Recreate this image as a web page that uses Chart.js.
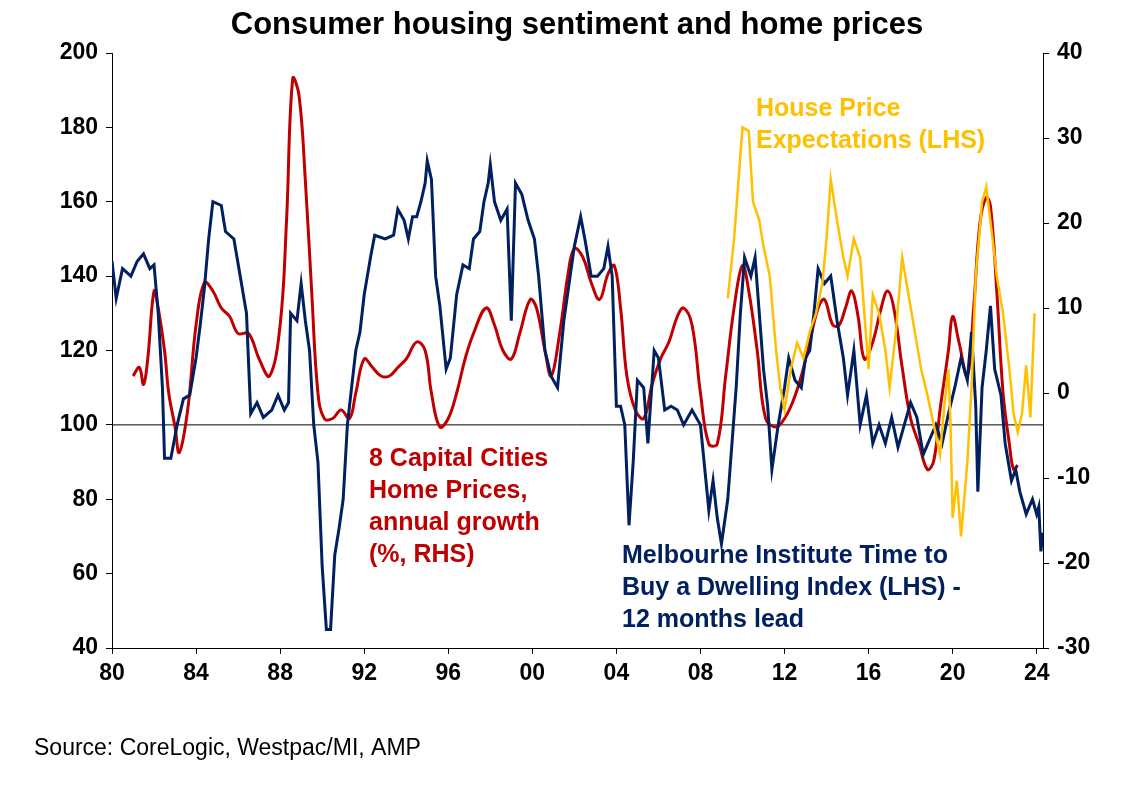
<!DOCTYPE html>
<html>
<head>
<meta charset="utf-8">
<script src="https://cdn.jsdelivr.net/npm/chart.js@4"></script>
<style>body{margin:0;background:#fff}</style>
</head>
<body>
<canvas id="myChart" width="1134" height="789"></canvas>
<script>
// Melbourne Institute Time to Buy a Dwelling Index (LHS), 12 months lead
const melbourne = [
  [1980.0,144],[1980.2,134],[1980.5,142],[1980.9,140],[1981.2,144],[1981.5,146],[1981.8,142],[1982.0,143],
  [1982.2,130],[1982.4,110],[1982.5,91],[1982.8,91],[1983.1,100],[1983.4,107],[1983.7,108],[1984.0,118],
  [1984.2,127],[1984.4,137],[1984.6,150],[1984.8,160],[1985.2,159],[1985.4,152],[1985.8,150],[1986.1,140],
  [1986.4,130],[1986.6,103],[1986.9,106],[1987.2,102],[1987.6,104],[1987.9,108],[1988.2,104],[1988.4,106],
  [1988.5,130],[1988.8,128],[1989.0,138],[1989.2,128],[1989.4,120],[1989.6,100],[1989.8,90],[1990.0,62],
  [1990.2,45],[1990.4,45],[1990.6,65],[1990.8,72],[1991.0,80],[1991.2,100],[1991.4,110],[1991.6,120],
  [1991.8,125],[1992.0,135],[1992.3,145],[1992.5,151],[1993.0,150],[1993.4,151],[1993.6,158],[1993.9,155],
  [1994.1,150],[1994.3,156],[1994.5,156],[1994.7,160],[1994.9,165],[1995.0,171],[1995.2,166],[1995.4,140],
  [1995.6,132],[1995.9,115],[1996.1,118],[1996.4,135],[1996.7,143],[1997.0,142],[1997.2,150],[1997.5,152],
  [1997.7,160],[1997.9,165],[1998.0,170],[1998.2,160],[1998.5,155],[1998.8,158],[1999.0,128],[1999.2,165],
  [1999.5,162],[1999.8,155],[2000.1,150],[2000.3,140],[2000.6,120],[2000.9,113],[2001.2,110],[2001.5,128],
  [2001.8,140],[2002.0,148],[2002.3,156],[2002.5,150],[2002.8,140],[2003.1,140],[2003.4,142],[2003.6,148],
  [2003.8,140],[2004.0,105],[2004.2,105],[2004.4,100],[2004.6,73],[2004.8,90],[2005.0,112],[2005.3,110],
  [2005.5,95],[2005.8,120],[2006.0,118],[2006.3,104],[2006.6,105],[2006.9,104],[2007.2,100],[2007.6,104],
  [2008.0,100],[2008.4,77],[2008.6,85],[2008.8,75],[2009.0,68],[2009.3,80],[2009.5,95],[2009.7,110],
  [2009.9,130],[2010.1,145],[2010.4,140],[2010.6,145],[2010.8,130],[2011.0,115],[2011.2,105],[2011.4,88],
  [2011.7,100],[2012.0,110],[2012.2,118],[2012.5,112],[2012.8,110],[2013.0,118],[2013.2,120],[2013.4,130],
  [2013.6,142],[2013.9,138],[2014.2,140],[2014.5,128],[2014.8,118],[2015.0,108],[2015.3,120],[2015.6,100],
  [2015.9,108],[2016.2,95],[2016.5,100],[2016.8,95],[2017.1,102],[2017.4,94],[2017.7,100],[2018.0,106],
  [2018.3,102],[2018.6,92],[2018.9,96],[2019.2,100],[2019.5,95],[2019.8,103],[2020.1,110],[2020.4,118],
  [2020.7,112],[2020.9,125],[2021.1,105],[2021.2,82],[2021.4,110],[2021.6,120],[2021.8,132],[2022.0,115],
  [2022.3,108],[2022.5,95],[2022.8,85],[2023.0,88],[2023.2,82],[2023.5,76],[2023.8,80],[2024.0,76],
  [2024.1,78],[2024.2,66],[2024.3,71]
];

// 8 Capital Cities Home Prices, annual growth % (RHS)
const homePrices = [
  [1981.0,2],[1981.3,3],[1981.5,1],[1981.7,4],[1982.0,12],[1982.2,10],[1982.5,5],[1982.7,0],[1983.0,-4],
  [1983.2,-7],[1983.6,-2],[1984.0,8],[1984.4,13],[1984.8,12],[1985.2,10],[1985.6,9],[1986.0,7],[1986.5,7],
  [1987.0,4],[1987.5,2],[1988.0,8],[1988.3,20],[1988.6,37],[1988.9,35],[1989.2,25],[1989.5,12],[1989.8,0],
  [1990.1,-3],[1990.5,-3],[1990.9,-2],[1991.3,-3],[1991.6,0],[1992.0,4],[1992.4,3],[1992.8,2],[1993.2,2],
  [1993.6,3],[1994.0,4],[1994.5,6],[1994.9,5],[1995.2,0],[1995.6,-4],[1996.0,-3],[1996.4,0],[1996.8,4],
  [1997.2,7],[1997.8,10],[1998.2,8],[1998.6,5],[1999.0,4],[1999.4,7],[1999.9,11],[2000.2,10],[2000.6,5],
  [2000.9,2],[2001.3,7],[2001.7,14],[2002.0,17],[2002.4,16],[2002.8,13],[2003.2,11],[2003.6,14],[2003.9,15],
  [2004.2,10],[2004.5,2],[2004.9,-2],[2005.3,-3],[2005.7,1],[2006.1,4],[2006.5,6],[2006.9,9],[2007.2,10],
  [2007.6,8],[2008.0,0],[2008.4,-6],[2008.8,-6],[2009.2,2],[2009.6,10],[2010.0,15],[2010.3,12],[2010.7,5],
  [2011.1,-3],[2011.6,-4],[2012.0,-3],[2012.4,-1],[2012.8,2],[2013.2,6],[2013.6,10],[2013.9,11],[2014.3,8],
  [2014.6,8],[2014.9,10],[2015.2,12],[2015.5,9],[2015.8,4],[2016.2,6],[2016.6,10],[2016.9,12],[2017.2,10],
  [2017.6,3],[2018.0,-3],[2018.4,-6],[2018.8,-9],[2019.1,-8],[2019.4,-2],[2019.8,5],[2020.0,9],[2020.3,6],
  [2020.7,2],[2021.0,10],[2021.3,20],[2021.6,23],[2021.8,22],[2022.1,12],[2022.4,0],[2022.7,-6],[2022.9,-9],
  [2023.1,-8.5]
];

// House Price Expectations (LHS)
const expectations = [
  [2009.3,134],[2009.6,150],[2009.8,165],[2010.0,180],[2010.3,179],[2010.5,160],[2010.8,155],[2011.0,148],
  [2011.3,140],[2011.6,120],[2011.8,110],[2012.0,104],[2012.3,115],[2012.6,122],[2012.9,118],[2013.2,125],
  [2013.5,130],[2013.8,138],[2014.0,150],[2014.2,166],[2014.5,155],[2014.8,145],[2015.0,140],[2015.3,150],
  [2015.6,145],[2015.8,130],[2016.0,115],[2016.2,135],[2016.5,130],[2016.8,120],[2017.0,110],[2017.3,125],
  [2017.6,145],[2017.9,135],[2018.2,125],[2018.5,115],[2018.8,108],[2019.1,100],[2019.4,92],[2019.6,105],
  [2019.8,115],[2019.9,100],[2020.0,75],[2020.2,85],[2020.4,70],[2020.7,90],[2020.9,110],[2021.1,140],
  [2021.4,160],[2021.6,164],[2021.9,150],[2022.1,140],[2022.4,130],[2022.7,115],[2022.9,103],[2023.1,98],
  [2023.3,103],[2023.5,116],[2023.7,102],[2023.9,130]
];

const toPoints = arr => arr.map(([x, y]) => ({ x, y }));
const FONT = 'Arial, "Liberation Sans", sans-serif';

// Título, rótulos e linha do 100
const extras = {
  id: 'extras',
  beforeDatasetsDraw(chart) {
    const { ctx, chartArea, scales } = chart;
    const y100 = scales.y.getPixelForValue(100);
    ctx.save();
    ctx.strokeStyle = '#000';
    ctx.lineWidth = 1;
    ctx.beginPath();
    ctx.moveTo(chartArea.left, y100);
    ctx.lineTo(chartArea.right, y100);
    ctx.stroke();
    ctx.restore();
  },
  afterDraw(chart) {
    const { ctx } = chart;
    ctx.save();
    ctx.fillStyle = '#000';
    ctx.font = 'bold 31px ' + FONT;
    ctx.textAlign = 'center';
    ctx.textBaseline = 'middle';
    ctx.fillText('Consumer housing sentiment and home prices', 577, 25);

    ctx.textAlign = 'left';
    ctx.font = '23px ' + FONT;
    ctx.fillText('Source: CoreLogic, Westpac/MI, AMP', 34, 749);

    ctx.font = 'bold 25px ' + FONT;
    const label = (lines, x, y, color) => {
      ctx.fillStyle = color;
      lines.forEach((t, i) => ctx.fillText(t, x, y + i * 32));
    };
    label(['House Price', 'Expectations (LHS)'], 756, 109, '#FFC000');
    label(['8 Capital Cities', 'Home Prices,', 'annual growth', '(%, RHS)'], 369, 459, '#C00000');
    label(['Melbourne Institute Time to', 'Buy a Dwelling Index (LHS) -', '12 months lead'], 622, 556, '#002060');
    ctx.restore();
  }
};

const lineOpts = (color, width) => ({
  borderColor: color, borderWidth: width, pointRadius: 0, fill: false, tension: 0
});

const tickFont = { family: FONT, size: 23, weight: 'bold' };

new Chart(document.getElementById('myChart').getContext('2d'), {
  type: 'line',
  data: {
    datasets: [
      { label: 'Expectations', data: toPoints(expectations), yAxisID: 'y', ...lineOpts('#FFC000', 2.5) },
      { label: 'Melbourne', data: toPoints(melbourne), yAxisID: 'y', ...lineOpts('#002060', 3) },
      { label: 'Home prices', data: toPoints(homePrices), yAxisID: 'y2', ...lineOpts('#C00000', 3), tension: 0.4 }
    ]
  },
  options: {
    responsive: false,
    animation: false,
    layout: { padding: { top: 53, left: 0, right: 0 } },
    plugins: { legend: { display: false }, tooltip: { enabled: false } },
    scales: {
      x: {
        type: 'linear', min: 1980, max: 2024.3,
        afterFit: s => { s.height = 141; },
        afterBuildTicks: s => { s.ticks = []; for (let v = 1980; v <= 2024; v += 4) s.ticks.push({ value: v }); },
        ticks: {
          color: '#000', font: tickFont, padding: 6, maxRotation: 0,
          callback: v => String(v % 100).padStart(2, '0')
        },
        grid: { display: true, drawOnChartArea: false, color: '#000', tickLength: 6 },
        border: { color: '#000', width: 1 }
      },
      y: {
        position: 'left', min: 40, max: 200,
        afterFit: s => { s.width = 112; },
        ticks: { stepSize: 20, color: '#000', font: tickFont, padding: 8 },
        grid: { display: true, drawOnChartArea: false, color: '#000', tickLength: 6 },
        border: { color: '#000', width: 1 }
      },
      y2: {
        position: 'right', min: -30, max: 40,
        afterFit: s => { s.width = 91; },
        ticks: { stepSize: 10, color: '#000', font: tickFont, padding: 8 },
        grid: { display: true, drawOnChartArea: false, color: '#000', tickLength: 6 },
        border: { color: '#000', width: 1 }
      }
    }
  },
  plugins: [extras]
});
</script>
</body>
</html>
